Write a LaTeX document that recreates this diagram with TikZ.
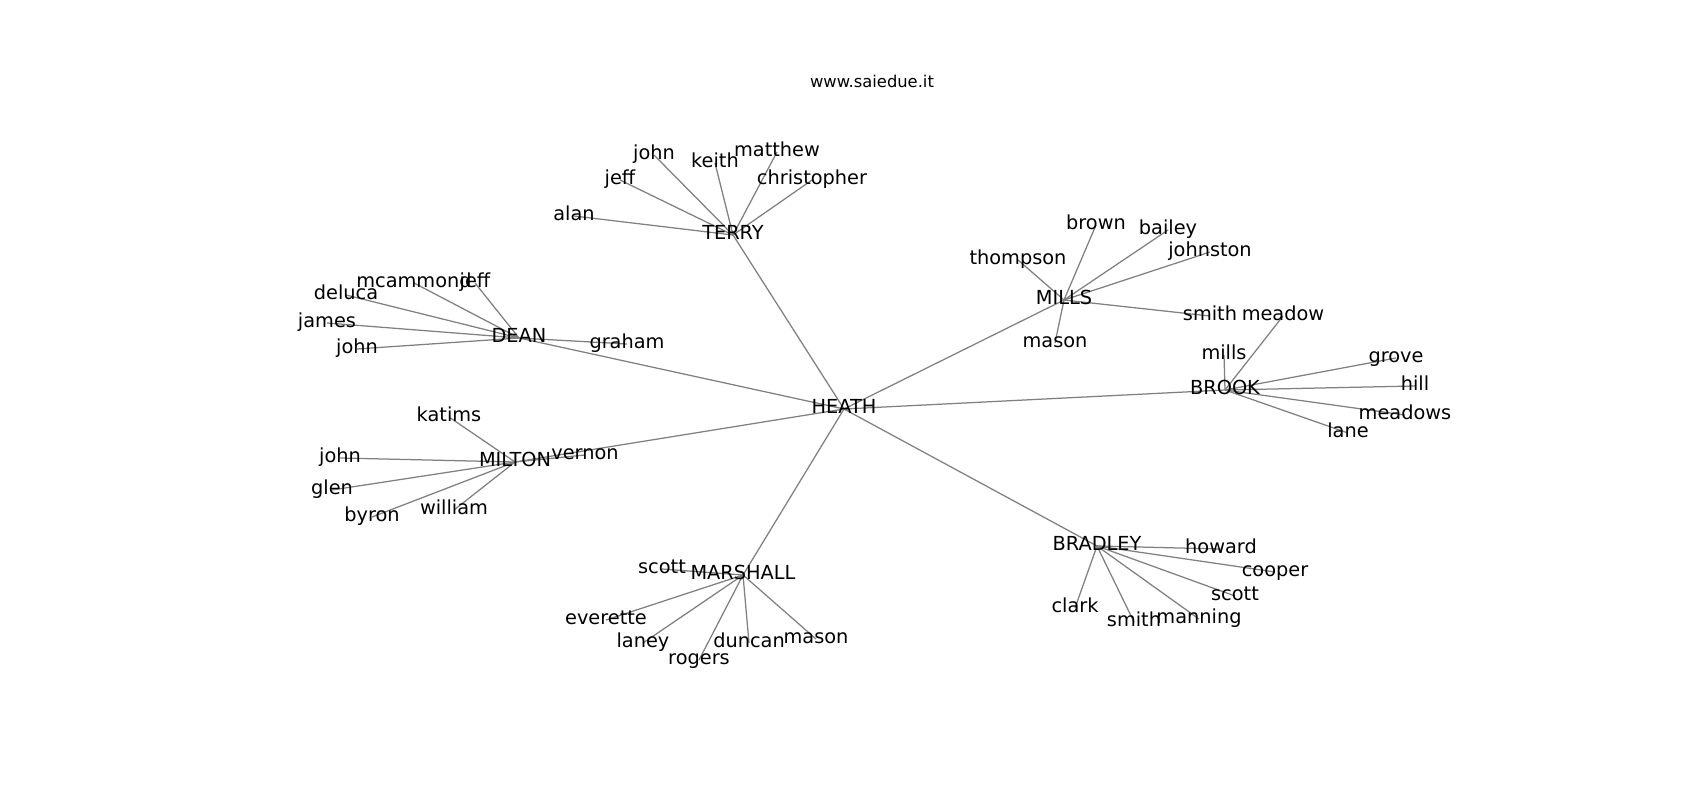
\documentclass[tikz,border=0pt]{standalone}
\usepackage{fontspec}
\setmainfont{DejaVu Sans}
\pgfdeclarelayer{bg}
\pgfdeclarelayer{edgelayer}
\pgfsetlayers{bg,edgelayer,main}
\tikzset{
  lbl/.style={font=\fontsize{11.6}{14}\selectfont, inner sep=0pt, text height=0.76em, text depth=0.24em, anchor=center},
  ttl/.style={font=\fontsize{9.8}{12}\selectfont, inner sep=0pt, text height=0.76em, text depth=0.24em, anchor=center},
  edge/.style={draw=black!50, line width=0.75pt}
}
\begin{document}
\begin{tikzpicture}[x=0.6pt,y=-0.6pt]
\useasboundingbox (0,0) rectangle (1700,800);
\begin{pgfonlayer}{bg}
\fill[white] (0,0) rectangle (1700,800);
\end{pgfonlayer}
\begin{scope}[shift={(0,3)}]
\node[ttl] (title) at (872,80) {www.saiedue.it};
% hubs
\node[lbl] (heath) at (844,406) {HEATH};
\node[lbl] (terry) at (733,232) {TERRY};
\node[lbl] (dean) at (519,335) {DEAN};
\node[lbl] (milton) at (515,459) {MILTON};
\node[lbl] (marshall) at (743,572) {MARSHALL};
\node[lbl] (bradley) at (1097,543) {BRADLEY};
\node[lbl] (brook) at (1225,387) {BROOK};
\node[lbl] (mills) at (1064,297) {MILLS};
% TERRY leaves
\node[lbl] (t1) at (574,213) {alan};
\node[lbl] (t2) at (620,177) {jeff};
\node[lbl] (t3) at (654,152) {john};
\node[lbl] (t4) at (715,160) {keith};
\node[lbl] (t5) at (777,149) {matthew};
\node[lbl] (t6) at (812,177) {christopher};
% DEAN leaves
\node[lbl] (d1) at (414,280) {mcammond};
\node[lbl] (d2) at (475,280) {jeff};
\node[lbl] (d3) at (346,292) {deluca};
\node[lbl] (d4) at (327,320) {james};
\node[lbl] (d5) at (357,346) {john};
\node[lbl] (d6) at (627,341) {graham};
% MILTON leaves
\node[lbl] (m1) at (449,414) {katims};
\node[lbl] (m2) at (340,455) {john};
\node[lbl] (m3) at (332,487) {glen};
\node[lbl] (m4) at (372,514) {byron};
\node[lbl] (m5) at (454,507) {william};
\node[lbl] (m6) at (585,452) {vernon};
% MARSHALL leaves
\node[lbl] (s1) at (662,566) {scott};
\node[lbl] (s2) at (606,617) {everette};
\node[lbl] (s3) at (643,640) {laney};
\node[lbl] (s4) at (699,657) {rogers};
\node[lbl] (s5) at (749,640) {duncan};
\node[lbl] (s6) at (816,636) {mason};
% BRADLEY leaves
\node[lbl] (b1) at (1221,546) {howard};
\node[lbl] (b2) at (1275,569) {cooper};
\node[lbl] (b3) at (1235,593) {scott};
\node[lbl] (b4) at (1199,616) {manning};
\node[lbl] (b5) at (1134,619) {smith};
\node[lbl] (b6) at (1075,605) {clark};
% BROOK leaves
\node[lbl] (r1) at (1224,352) {mills};
\node[lbl] (r2) at (1283,313) {meadow};
\node[lbl] (r3) at (1396,355) {grove};
\node[lbl] (r4) at (1415,383) {hill};
\node[lbl] (r5) at (1405,412) {meadows};
\node[lbl] (r6) at (1348,430) {lane};
% MILLS leaves
\node[lbl] (l1) at (1018,257) {thompson};
\node[lbl] (l2) at (1096,222) {brown};
\node[lbl] (l3) at (1168,227) {bailey};
\node[lbl] (l4) at (1210,249) {johnston};
\node[lbl] (l5) at (1210,313) {smith};
\node[lbl] (l6) at (1055,340) {mason};
\end{scope}
\begin{pgfonlayer}{edgelayer}
\foreach \h in {terry,dean,milton,marshall,bradley,brook,mills}
  \draw[edge] (heath.center) -- (\h.center);
\foreach \i in {1,...,6}{
  \draw[edge] (terry.center) -- (t\i.center);
  \draw[edge] (dean.center) -- (d\i.center);
  \draw[edge] (milton.center) -- (m\i.center);
  \draw[edge] (marshall.center) -- (s\i.center);
  \draw[edge] (bradley.center) -- (b\i.center);
  \draw[edge] (brook.center) -- (r\i.center);
  \draw[edge] (mills.center) -- (l\i.center);
}
\end{pgfonlayer}
\end{tikzpicture}
\end{document}
